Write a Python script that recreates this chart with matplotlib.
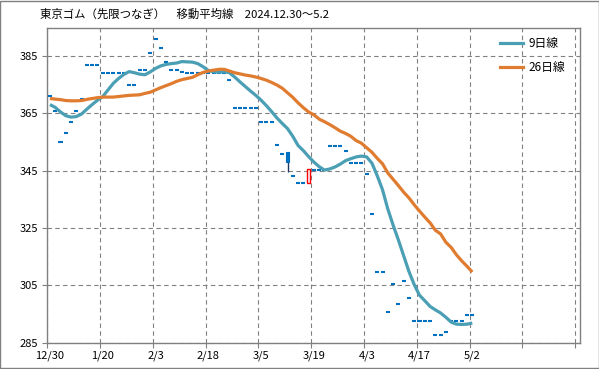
import matplotlib
matplotlib.use("Agg")
import matplotlib.pyplot as plt
from matplotlib.lines import Line2D
from matplotlib.patches import Rectangle
import numpy as np

plt.rcParams['font.family'] = ['Noto Sans CJK JP', 'DejaVu Sans']

title = "東京ゴム（先限つなぎ）　移動平均線　2024.12.30～5.2"
tick_labels = ["12/30", "1/20", "2/3", "2/18", "3/5", "3/19", "4/3", "4/17", "5/2"]
y_ticks = [285, 305, 325, 345, 365, 385]

closes = [371, 366, 355, 358, 362, 366, 370, 382, 382, 382,
          379, 379, 379, 379, 379, 375, 375, 380, 380, 386,
          391, 388, 383, 380, 380, 379.5, 379, 379, 379, 379,
          379, 379, 379, 379, 376.7, 367, 367, 367, 367, 367,
          362, 362, 362, 354, 351, 348.2, 343.3, 340.6, 340.6, 345.5,
          345.3, 345.3, 345.3, 353.7, 353.7, 353.7, 352, 347.7, 347.7, 347.7,
          344, 329.7, 309.7, 309.7, 295.8, 305.4, 298.5, 306.6, 300.7, 292.5,
          292.5, 292.5, 292.5, 287.7, 287.7, 288.8, 292.5, 292.5, 292.5, 294.7,
          294.7]
opens = list(closes)
highs = list(closes)
lows = list(closes)
opens[45], highs[45], lows[45] = 351.5, 351.5, 344.7
opens[49], highs[49], lows[49] = 340.6, 345.5, 340.6

ma9 = [368.1, 367.1, 365.5, 364.2, 363.7, 363.9, 364.8, 366.5, 368.1, 369.6,
       370.9, 373.2, 375.5, 377.2, 378.6, 379.6, 379.2, 378.7, 378.5, 379.5,
       380.7, 381.6, 382.1, 382.4, 382.6, 383.1, 383.0, 382.9, 382.4, 381.3,
       380.0, 379.5, 379.4, 379.6, 379.2, 377.7, 376.0, 374.4, 372.8, 371.3,
       369.6, 367.7, 365.6, 363.4, 361.5, 359.7, 357.0, 353.8, 352.0, 349.9,
       348.0, 346.4, 345.2, 345.6, 346.3, 347.3, 348.5, 349.2, 349.8, 350.1,
       349.8, 347.6, 343.2, 338.3, 331.6, 326.0, 320.8, 315.3, 309.8, 305.2,
       301.5, 299.6, 297.6, 296.4, 295.3, 293.8, 292.1, 291.4, 291.3, 291.4,
       291.8]
ma26 = [370.2, 370.0, 369.8, 369.5, 369.4, 369.4, 369.5, 369.9, 370.2, 370.5,
        370.7, 370.7, 370.7, 370.9, 371.1, 371.3, 371.4, 371.5, 372.0, 372.4,
        373.2, 374.0, 374.7, 375.4, 376.2, 376.8, 377.2, 377.6, 378.5, 379.3,
        379.8, 380.1, 380.4, 380.4, 379.8, 379.2, 378.8, 378.4, 378.1, 377.7,
        377.2, 376.6, 375.8, 374.9, 373.8, 372.2, 370.6, 368.7, 367.0, 365.5,
        364.5, 363.0, 362.1, 361.1, 360.0, 358.8, 358.0, 357.0, 355.5, 354.6,
        353.0, 351.4, 349.3, 347.4, 344.2, 342.0, 339.8, 337.5, 335.5, 333.1,
        330.9, 328.8, 326.8, 324.2, 322.9, 320.0, 318.2, 315.6, 313.5, 311.6,
        309.6]

teal = "#4A9FB5"
orange = "#E07C30"
blue = "#0070C0"
grid_c = "#808080"

fig = plt.figure(figsize=(5.99, 3.69), dpi=100)
ax = fig.add_axes([47.3/599, 26.5/369, 532.7/599, 315/369])

x = np.arange(len(closes))
o = np.array(opens); c = np.array(closes); h = np.array(highs); l = np.array(lows)

# wicks
wick = h > l
ax.vlines(x[wick], l[wick], h[wick], color="#1F3864", lw=1.0, zorder=2)
# doji
doji = o == c
ax.hlines(c[doji], x[doji]-0.38, x[doji]+0.38, color=blue, lw=1.5, zorder=3)
# down bodies
down = c < o
ax.bar(x[down], (o-c)[down], bottom=c[down], width=0.72, color=blue,
       edgecolor=blue, lw=0.8, zorder=3)
up = c > o
ax.bar(x[up], (c-o)[up], bottom=o[up], width=0.62, facecolor="white",
       edgecolor="#FF0000", lw=1.0, zorder=3)

ax.plot(x, ma9, color=teal, lw=2.3, zorder=4, solid_capstyle='butt')
ax.plot(x, ma26, color=orange, lw=2.3, zorder=5, solid_capstyle='butt')

ax.set_xlim(-0.5, 100.4)
ax.set_ylim(285, 395)
ax.set_yticks(y_ticks)
ax.set_yticklabels([str(v) for v in y_ticks], fontsize=8)
ax.set_xticks(np.arange(-0.5, 100, 10))
ax.set_xticklabels([])
ax.set_xticks(np.arange(0, 81, 10), minor=True)
ax.set_xticklabels(tick_labels, minor=True, fontsize=8)
ax.tick_params(axis='x', which='minor', length=0, pad=6)
ax.tick_params(axis='x', which='major', length=3.5, color=grid_c, width=0.8)
ax.tick_params(axis='y', length=3.5, color=grid_c, width=0.8, pad=3)
ax.grid(True, which='major', axis='both', color=grid_c, ls=(0, (4, 3)), lw=0.8)
ax.set_axisbelow(True)
for s in ax.spines.values():
    s.set_color(grid_c)
    s.set_linewidth(1.0)

handles = [Line2D([], [], color=teal, lw=2.3), Line2D([], [], color=orange, lw=2.3)]
ax.legend(handles, ["9日線", "26日線"], loc='upper left',
          bbox_to_anchor=(0.838, 0.988), frameon=False, fontsize=8.5,
          handlelength=1.95, handletextpad=0.5, labelspacing=0.95, borderpad=0)

fig.text(40/599, 1-14/369, title, fontsize=8.2, va='center', ha='left')
fig.patches.append(Rectangle((0.0008, 0.0014), 0.9984, 0.997, transform=fig.transFigure,
                             fill=False, edgecolor="#808080", lw=1.0))

fig.savefig("out.png", dpi=100, facecolor="white")
